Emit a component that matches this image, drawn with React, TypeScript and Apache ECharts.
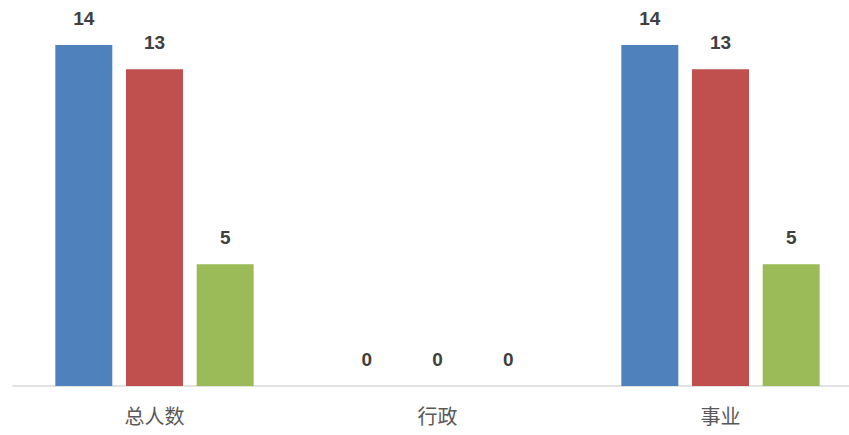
import React, { useEffect, useRef } from "react";
import * as echarts from "echarts";

const categories = ["总人数", "行政", "事业"];
const seriesBlue = [14, 0, 14];
const seriesRed = [13, 0, 13];
const seriesGreen = [5, 0, 5];
const colors = ["#4f81bd", "#c0504d", "#9bbb59"];

export default function App() {
  const ref = useRef<HTMLDivElement>(null);
  useEffect(() => {
    const chart = echarts.init(ref.current!, null, { renderer: "svg" });
    const label = {
      show: true,
      position: "top",
      distance: 17,
      color: "#404040",
      fontSize: 19,
      fontWeight: "bold",
      fontFamily: "Liberation Sans, Arial, sans-serif",
    };
    const mk = (name: string, data: number[], color: string) => ({
      name,
      type: "bar",
      data,
      barWidth: 57,
      barGap: "24%",
      itemStyle: { color },
      label,
    });
    chart.setOption({
      animation: false,
      grid: {
        left: 13,
        right: -13,
        top: 45,
        bottom: 49,
        containLabel: false,
        outerBoundsMode: "none",
      },
      xAxis: {
        type: "category",
        data: categories,
        axisLine: { lineStyle: { color: "#d9d9d9", width: 1.5 } },
        axisTick: { show: false },
        axisLabel: {
          color: "#595959",
          fontSize: 20,
          margin: 19,
          fontFamily: "Noto Sans CJK SC, sans-serif",
        },
      },
      yAxis: {
        type: "value",
        min: 0,
        max: 14,
        show: false,
        splitLine: { show: false },
      },
      series: [
        mk("A", seriesBlue, colors[0]),
        mk("B", seriesRed, colors[1]),
        mk("C", seriesGreen, colors[2]),
      ],
    });
    return () => chart.dispose();
  }, []);
  return (
    <div
      ref={ref}
      style={{ position: "fixed", left: 0, top: 0, width: 849, height: 435, background: "#fff" }}
    />
  );
}
